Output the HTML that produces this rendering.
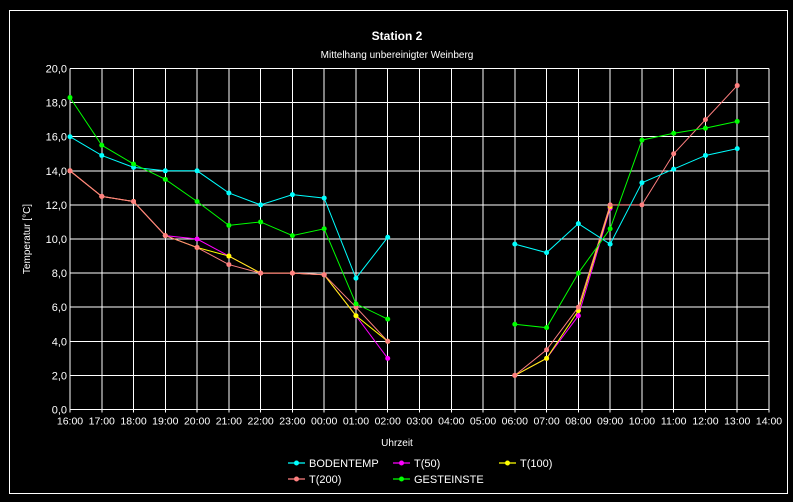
<!DOCTYPE html>
<html><head><meta charset="utf-8"><style>
html,body{margin:0;padding:0;background:#000;}
svg{display:block;font-family:"Liberation Sans",Arial,sans-serif;}
</style></head><body>
<svg id="chart" width="793" height="502" viewBox="0 0 793 502">
<rect x="0" y="0" width="793" height="502" fill="#000"/>
<rect x="9.5" y="10.5" width="778" height="483" fill="none" stroke="#fff" stroke-width="1"/>
<text x="397" y="40" fill="#fff" font-size="12" font-weight="bold" text-anchor="middle">Station 2</text>
<text x="397" y="58" fill="#fff" font-size="10" text-anchor="middle">Mittelhang unbereinigter Weinberg</text>
<text x="397" y="446" fill="#fff" font-size="10" text-anchor="middle">Uhrzeit</text>
<text transform="translate(30,239) rotate(-90)" fill="#fff" font-size="10" text-anchor="middle">Temperatur [°C]</text>
<g id="grid" shape-rendering="crispEdges"></g><g id="axes"></g><g id="series"></g><g id="legend"></g>
</svg>
<script>
const hours = ["16:00","17:00","18:00","19:00","20:00","21:00","22:00","23:00","00:00","01:00","02:00","03:00","04:00","05:00","06:00","07:00","08:00","09:00","10:00","11:00","12:00","13:00","14:00"];
const yTicks = [0,2,4,6,8,10,12,14,16,18,20];
const bodentemp = [16.0,14.9,14.2,14.0,14.0,12.7,12.0,12.6,12.4,7.7,10.1,null,null,null,9.7,9.2,10.9,9.7,13.3,14.1,14.9,15.3];
const t50 = [14.0,12.5,12.2,10.2,10.0,9.0,8.0,8.0,7.9,5.5,3.0,null,null,null,2.0,3.0,5.5,11.8];
const t100 = [14.0,12.5,12.2,10.2,9.5,9.0,8.0,8.0,7.9,5.5,4.0,null,null,null,2.0,3.0,5.8,11.9];
const t200 = [14.0,12.5,12.2,10.2,9.5,8.5,8.0,8.0,7.9,6.0,4.0,null,null,null,2.0,3.5,6.0,12.0,12.0,15.0,17.0,19.0];
const gesteinste = [18.3,15.5,14.4,13.5,12.2,10.8,11.0,10.2,10.6,6.2,5.3,null,null,null,5.0,4.8,8.0,10.6,15.8,16.2,16.5,16.9];
const seriesNames = ["T(50)","T(100)","T(200)","BODENTEMP","GESTEINSTE"];

const NS="http://www.w3.org/2000/svg";
const X0=70, X1=769, Y0=409.5, Y1=68.5, YMAX=20;
function xs(i){return X0+(X1-X0)*i/(hours.length-1);}
function ys(v){return Y0-(Y0-Y1)*v/YMAX;}
function mk(tag,attrs,parent){const e=document.createElementNS(NS,tag);for(const k in attrs)e.setAttribute(k,attrs[k]);parent.appendChild(e);return e;}
const grid=document.getElementById('grid'), axes=document.getElementById('axes');
yTicks.forEach(t=>{
  const l=mk('line',{x1:X0,x2:X1,y1:ys(t),y2:ys(t),stroke:'#fff','stroke-width':1},grid);
  
  
  const tx=mk('text',{x:X0-3,y:ys(t)+4,fill:'#fff','font-size':11,'text-anchor':'end'},axes);
  tx.textContent=t.toFixed(1).replace('.',',');
  
  
});
hours.forEach((h,i)=>{
  const l=mk('line',{x1:xs(i),x2:xs(i),y1:Y1,y2:Y0+3,stroke:'#fff','stroke-width':1},grid);
  
  
  const tx=mk('text',{x:xs(i),y:Y0+15,fill:'#fff','font-size':10.5,'text-anchor':'middle'},axes);
  tx.textContent=h;
  
  
});
const sg=document.getElementById('series');
function drawSeries(data,color,name){
  const g=mk('g',{},sg);
  
  
  let seg=[];
  const flush=()=>{if(seg.length>1){const p=mk('polyline',{points:seg.join(' '),fill:'none',stroke:color,'stroke-width':1},g);
    
    }seg=[];};
  data.forEach((v,i)=>{if(v===null||v===undefined){flush();}else seg.push(xs(i)+','+ys(v));});
  flush();
  data.forEach((v,i)=>{if(v===null||v===undefined)return;
    const c=mk('circle',{cx:xs(i),cy:ys(v),r:2.5,fill:color},g);
    
    });
}
drawSeries(t50,'#ff00ff','t50');
drawSeries(t100,'#ffff00','t100');
drawSeries(t200,'#ff8080','t200');
drawSeries(bodentemp,'#00ffff','bodentemp');
drawSeries(gesteinste,'#00ff00','gesteinste');

const lg=document.getElementById('legend');
const legendItems=[["BODENTEMP","#00ffff",288,463],["T(50)","#ff00ff",393,463],["T(100)","#ffff00",499,463],["T(200)","#ff8080",288,479],["GESTEINSTE","#00ff00",393,479]];
legendItems.forEach(it=>{
  const g=mk('g',{},lg);
  
  
  mk('line',{x1:it[2],x2:it[2]+17,y1:it[3],y2:it[3],stroke:it[1],'stroke-width':1.2},g);
  mk('circle',{cx:it[2]+8.5,cy:it[3],r:2.5,fill:it[1]},g);
  const t=mk('text',{x:it[2]+21,y:it[3]+4,fill:'#fff','font-size':11},g);
  t.textContent=it[0];
});
</script>
</body></html>
